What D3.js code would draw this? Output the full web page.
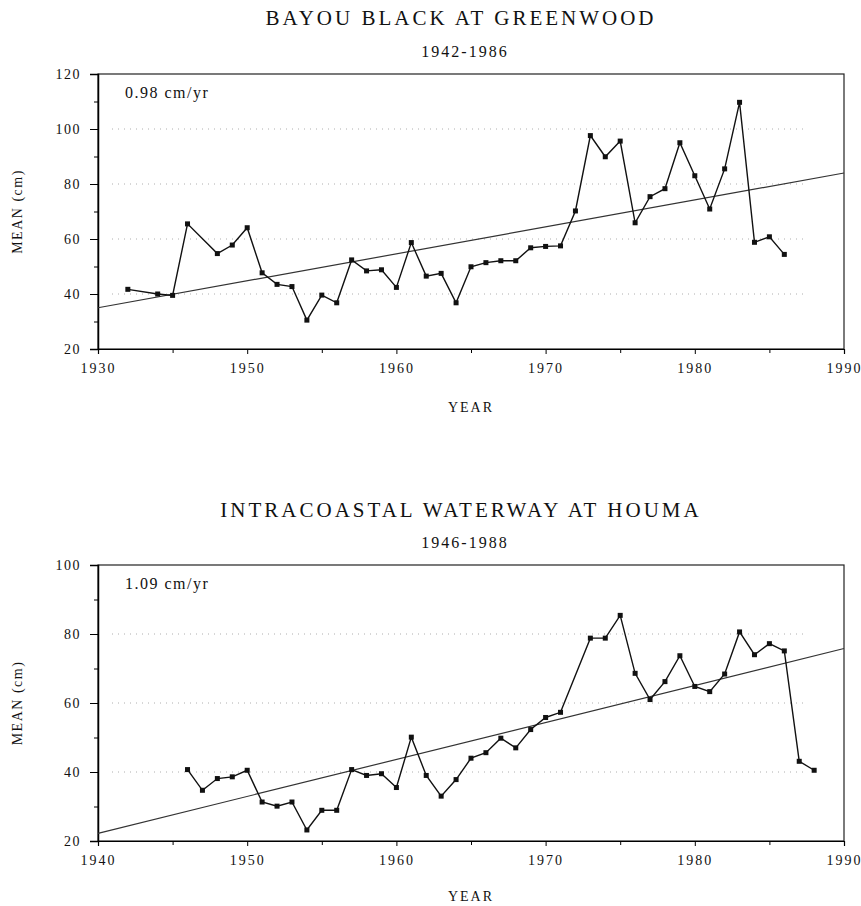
<!DOCTYPE html>
<html>
<head>
<meta charset="utf-8">
<script src="https://cdn.jsdelivr.net/npm/d3@7"></script>
<style>
    body { margin: 0; background: #fff; }
    text { font-family: "Liberation Serif", "Times New Roman", serif; fill: #111; }
</style>
</head>
<body>
<div id="chart"></div>
<script>
// Bayou Black at Greenwood, 1942-1986
var topYears = [1942, 1944, 1945, 1946, 1948, 1949, 1950, 1951, 1952, 1953, 1954, 1955, 1956, 1957, 1958,
    1959, 1960, 1961, 1962, 1963, 1964, 1965, 1966, 1967, 1968, 1969, 1970, 1971, 1972, 1973, 1974,
    1975, 1976, 1977, 1978, 1979, 1980, 1981, 1982, 1983, 1984, 1985, 1986];
var topMeans = [41.7, 40.0, 39.5, 65.5, 54.7, 57.8, 64.1, 47.7, 43.5, 42.7, 30.5, 39.6, 36.8, 52.4, 48.4,
    48.8, 42.4, 58.7, 46.5, 47.5, 36.8, 49.9, 51.4, 52.1, 52.1, 56.8, 57.3, 57.5, 70.2, 97.6, 89.9,
    95.6, 65.9, 75.4, 78.3, 95.0, 83.0, 70.9, 85.5, 109.7, 58.8, 60.8, 54.4];
var topTrendYears = [1940, 1990];
var topTrendValues = [35.0, 84.0];
var topXLabels = ["1930", "1950", "1960", "1970", "1980", "1990"];
var topYTicks = [20, 40, 60, 80, 100, 120];
var topGrid = [40, 60, 80, 100];

// Intracoastal Waterway at Houma, 1946-1988
var bottomYears = [1946, 1947, 1948, 1949, 1950, 1951, 1952, 1953, 1954, 1955, 1956, 1957, 1958, 1959,
    1960, 1961, 1962, 1963, 1964, 1965, 1966, 1967, 1968, 1969, 1970, 1971, 1973, 1974, 1975, 1976,
    1977, 1978, 1979, 1980, 1981, 1982, 1983, 1984, 1985, 1986, 1987, 1988];
var bottomMeans = [40.7, 34.7, 38.1, 38.6, 40.5, 31.3, 30.1, 31.3, 23.2, 28.9, 28.9, 40.7, 39.0, 39.5,
    35.5, 50.1, 39.0, 33.0, 37.8, 44.0, 45.6, 49.8, 47.0, 52.3, 55.8, 57.3, 78.8, 78.8, 85.4, 68.6,
    61.0, 66.2, 73.7, 64.8, 63.3, 68.4, 80.6, 74.0, 77.2, 75.1, 43.1, 40.5];
var bottomTrendYears = [1940, 1990];
var bottomTrendValues = [22.2, 75.8];
var bottomXLabels = ["1940", "1950", "1960", "1970", "1980", "1990"];
var bottomYTicks = [20, 40, 60, 80, 100];
var bottomGrid = [40, 60, 80];

var xTickYears = [1940, 1950, 1960, 1970, 1980, 1990];

var svg = d3.select("#chart")
    .append("svg")
    .attr("width", 861)
    .attr("height", 906);

drawPanel({
    title: "BAYOU BLACK AT GREENWOOD",
    subtitle: "1942-1986",
    rate: "0.98 cm/yr",
    years: topYears, means: topMeans,
    trendYears: topTrendYears, trendValues: topTrendValues,
    xLabels: topXLabels, yTicks: topYTicks, grid: topGrid,
    yDomain: [20, 120],
    top: 74, bottom: 349, titleY: 25, subtitleY: 57, yearY: 412
});

drawPanel({
    title: "INTRACOASTAL WATERWAY AT HOUMA",
    subtitle: "1946-1988",
    rate: "1.09 cm/yr",
    years: bottomYears, means: bottomMeans,
    trendYears: bottomTrendYears, trendValues: bottomTrendValues,
    xLabels: bottomXLabels, yTicks: bottomYTicks, grid: bottomGrid,
    yDomain: [20, 100],
    top: 565, bottom: 841, titleY: 517, subtitleY: 548, yearY: 901
});

function drawPanel(cfg) {
    var left = 98, right = 844;
    var g = svg.append("g");

    var x = d3.scaleLinear().domain([1940, 1990]).range([left, right]);
    var y = d3.scaleLinear().domain(cfg.yDomain).range([cfg.bottom, cfg.top]);
    var mid = (left + right) / 2;

    // titles
    g.append("text")
        .attr("x", mid - 10).attr("y", cfg.titleY)
        .attr("text-anchor", "middle")
        .style("font-size", "21px")
        .style("letter-spacing", "3px")
        .text(cfg.title);
    g.append("text")
        .attr("x", mid - 6).attr("y", cfg.subtitleY)
        .attr("text-anchor", "middle")
        .style("font-size", "16px")
        .style("letter-spacing", "2px")
        .text(cfg.subtitle);

    // faint dotted grid, like the scan
    g.selectAll(".grid")
        .data(cfg.grid)
        .enter()
        .append("line")
        .attr("x1", left + 14).attr("x2", right - 40)
        .attr("y1", function (d) { return y(d); })
        .attr("y2", function (d) { return y(d); })
        .attr("stroke", "#9a9a9a")
        .attr("stroke-width", 0.8)
        .attr("stroke-dasharray", "1,5");

    // frame
    g.append("rect")
        .attr("x", left).attr("y", cfg.top)
        .attr("width", right - left).attr("height", cfg.bottom - cfg.top)
        .attr("fill", "none")
        .attr("stroke", "#222")
        .attr("stroke-width", 1.2);

    // y axis: major labelled ticks and minor ticks
    var minorY = d3.range(cfg.yDomain[0], cfg.yDomain[1] + 1, 10);
    g.append("g")
        .attr("transform", "translate(" + left + ",0)")
        .call(d3.axisLeft(y).tickValues(minorY).tickSize(4).tickFormat(""))
        .call(function (a) { a.select(".domain").remove(); });
    var yAxis = g.append("g")
        .attr("transform", "translate(" + left + ",0)")
        .call(d3.axisLeft(y).tickValues(cfg.yTicks).tickSize(8).tickPadding(9));
    yAxis.select(".domain").attr("stroke-width", 1.5);
    yAxis.selectAll("text")
        .style("font-size", "14px")
        .style("letter-spacing", "1.5px")
        .style("font-family", "Liberation Serif, serif");

    // x axis
    g.append("g")
        .attr("transform", "translate(0," + cfg.bottom + ")")
        .call(d3.axisBottom(x).tickValues(d3.range(1945, 1990, 10)).tickSize(4).tickFormat(""))
        .call(function (a) { a.select(".domain").remove(); });
    var xAxis = g.append("g")
        .attr("transform", "translate(0," + cfg.bottom + ")")
        .call(d3.axisBottom(x).tickValues(xTickYears).tickSize(5).tickPadding(9)
            .tickFormat(function (d, i) { return cfg.xLabels[i]; }));
    xAxis.select(".domain").attr("stroke-width", 1.2);
    xAxis.selectAll("text")
        .style("font-size", "14px")
        .style("letter-spacing", "2px")
        .style("font-family", "Liberation Serif, serif");

    // axis titles
    g.append("text")
        .attr("x", mid).attr("y", cfg.yearY)
        .attr("text-anchor", "middle")
        .style("font-size", "14px")
        .style("letter-spacing", "2px")
        .text("YEAR");
    g.append("text")
        .attr("transform", "translate(22," + ((cfg.top + cfg.bottom) / 2) + ") rotate(-90)")
        .attr("text-anchor", "middle")
        .style("font-size", "14px")
        .style("letter-spacing", "1.5px")
        .text("MEAN (cm)");

    // rate label
    g.append("text")
        .attr("x", left + 27).attr("y", cfg.top + 24)
        .style("font-size", "16px")
        .style("letter-spacing", "1.5px")
        .text(cfg.rate);

    // regression line
    var trend = cfg.trendYears.map(function (yr, i) { return [yr, cfg.trendValues[i]]; });
    g.append("path")
        .datum(trend)
        .attr("fill", "none")
        .attr("stroke", "#333")
        .attr("stroke-width", 1.2)
        .attr("d", d3.line().x(function (d) { return x(d[0]); }).y(function (d) { return y(d[1]); }));

    // annual means
    var pts = cfg.years.map(function (yr, i) { return [yr, cfg.means[i]]; });
    g.append("path")
        .datum(pts)
        .attr("fill", "none")
        .attr("stroke", "#111")
        .attr("stroke-width", 1.4)
        .attr("d", d3.line().x(function (d) { return x(d[0]); }).y(function (d) { return y(d[1]); }));

    g.selectAll(".pt")
        .data(pts)
        .enter()
        .append("rect")
        .attr("x", function (d) { return x(d[0]) - 2.5; })
        .attr("y", function (d) { return y(d[1]) - 2.5; })
        .attr("width", 5)
        .attr("height", 5)
        .attr("fill", "#111");
}
</script>
</body>
</html>
